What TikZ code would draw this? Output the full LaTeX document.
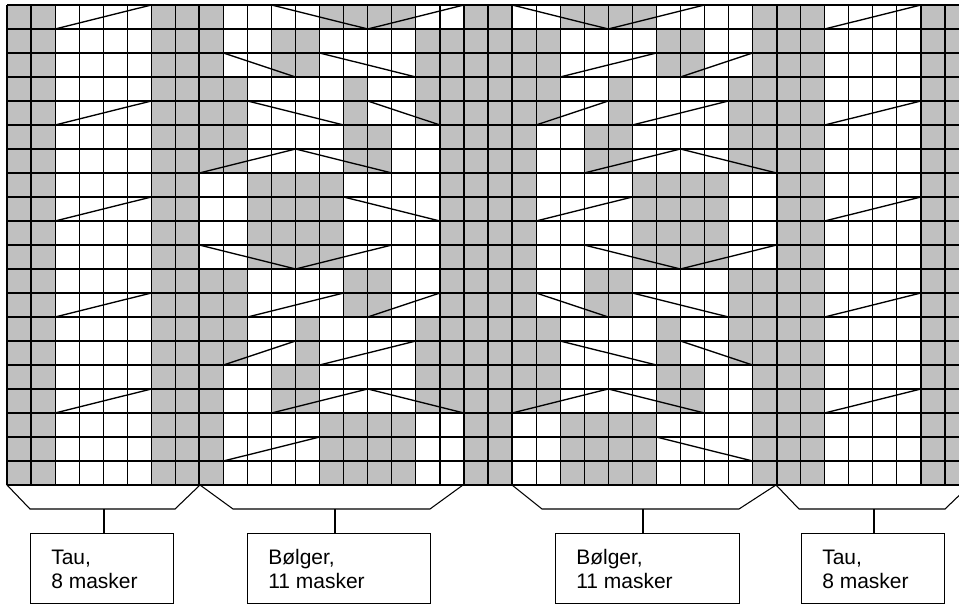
\documentclass[tikz,border=0pt]{standalone}
\usepackage{fontspec}
\setmainfont{Liberation Sans}
\definecolor{gridgrey}{RGB}{192,192,192}
\begin{document}
\begin{tikzpicture}[x=0.75pt,y=-0.75pt,
  gridline/.style={line width=0.9pt},
  sectline/.style={line width=1.4pt},
  crossline/.style={line width=1pt,line cap=round},
  bracket/.style={line width=0.8pt,line join=miter},
  stem/.style={line width=0.8pt},
  labelbox/.style={draw,line width=0.8pt,rectangle,inner sep=0pt,anchor=north west,minimum height=52.5pt},
  labeltext/.style={font=\fontsize{15.75}{18}\selectfont,align=left,anchor=base west,inner sep=0pt}
]
\useasboundingbox (0,0) rectangle (959,605);
\begin{scope}
\clip (0,0) rectangle (959,605);
% grey cells
\foreach \rr/\cols in {
 0/{0,1,6,7,8,13,14,15,16,19,20,23,24,25,26,31,32,33,38,39},
 1/{0,1,6,7,8,11,12,17,18,19,20,21,22,27,28,31,32,33,38,39},
 2/{0,1,6,7,8,11,12,17,18,19,20,21,22,27,28,31,32,33,38,39},
 3/{0,1,6,7,8,9,14,17,18,19,20,21,22,25,30,31,32,33,38,39},
 4/{0,1,6,7,8,9,14,17,18,19,20,21,22,25,30,31,32,33,38,39},
 5/{0,1,6,7,8,9,14,15,18,19,20,21,24,25,30,31,32,33,38,39},
 6/{0,1,6,7,8,9,14,15,18,19,20,21,24,25,30,31,32,33,38,39},
 7/{0,1,6,7,10,11,12,13,18,19,20,21,26,27,28,29,32,33,38,39},
 8/{0,1,6,7,10,11,12,13,18,19,20,21,26,27,28,29,32,33,38,39},
 9/{0,1,6,7,10,11,12,13,18,19,20,21,26,27,28,29,32,33,38,39},
 10/{0,1,6,7,10,11,12,13,18,19,20,21,26,27,28,29,32,33,38,39},
 11/{0,1,6,7,8,9,14,15,18,19,20,21,24,25,30,31,32,33,38,39},
 12/{0,1,6,7,8,9,14,15,18,19,20,21,24,25,30,31,32,33,38,39},
 13/{0,1,6,7,8,9,12,17,18,19,20,21,22,27,30,31,32,33,38,39},
 14/{0,1,6,7,8,9,12,17,18,19,20,21,22,27,30,31,32,33,38,39},
 15/{0,1,6,7,8,11,12,17,18,19,20,21,22,27,28,31,32,33,38,39},
 16/{0,1,6,7,8,11,12,17,18,19,20,21,22,27,28,31,32,33,38,39},
 17/{0,1,6,7,8,13,14,15,16,19,20,23,24,25,26,31,32,33,38,39},
 18/{0,1,6,7,8,13,14,15,16,19,20,23,24,25,26,31,32,33,38,39},
 19/{0,1,6,7,8,13,14,15,16,19,20,23,24,25,26,31,32,33,38,39}}{
  \foreach \cc in \cols {
    \fill[gridgrey] ({7+\cc*24.05},{5+\rr*24}) rectangle ++(24.05,24);
  }
}
% grid lines
\foreach \ii in {0,...,40} {
  \draw[gridline] ({7+\ii*24.05},5) -- ({7+\ii*24.05},485);
}
\foreach \jj in {0,...,20} {
  \draw[gridline] (7,{5+\jj*24}) -- (970,{5+\jj*24});
}
\foreach \ii in {8,19,21,32} {
  \draw[sectline] ({7+\ii*24.05},5) -- ({7+\ii*24.05},485);
}
% cable crossing lines, waves (mirrored)
\foreach \pa/\pb/\pc/\pd in {
  11/0/15/1, 15/1/19/0,
  9/2/12/3, 13/2/17/3,
  10/4/14/5, 15/4/18/5,
  8/7/12/6, 12/6/16/7,
  14/8/18/9,
  8/10/12/11, 12/11/16/10,
  10/13/14/12, 15/13/18/12,
  9/15/12/14, 13/15/17/14,
  11/17/15/16, 15/16/19/17,
  9/19/13/18}{
  \draw[crossline] ({7+\pa*24.05},{5+\pb*24}) -- ({7+\pc*24.05},{5+\pd*24});
  \draw[crossline] ({7+(40-\pa)*24.05},{5+\pb*24}) -- ({7+(40-\pc)*24.05},{5+\pd*24});
}
% rope crossing lines
\foreach \rr in {0,4,8,12,16} {
  \draw[crossline] ({7+2*24.05},{5+(\rr+1)*24}) -- ({7+6*24.05},{5+\rr*24});
  \draw[crossline] ({7+34*24.05},{5+(\rr+1)*24}) -- ({7+38*24.05},{5+\rr*24});
}
% brackets
\draw[bracket] (7,485) -- (30,509) -- (175,509) -- (200,485);
\draw[bracket] (200,485) -- (233,509) -- (430,509) -- (463,485);
\draw[bracket] (512,485) -- (542,509) -- (739,509) -- (776,485);
\draw[bracket] (776,485) -- (799,509) -- (945,509) -- (970,485);
\end{scope}
% stem points
\coordinate (s1) at (104,509);
\coordinate (s2) at (335,509);
\coordinate (s3) at (643,509);
\coordinate (s4) at (874,509);
% label boxes
\node[labelbox,minimum width=107.25pt] (box1) at (30,533) {};
\node[labelbox,minimum width=137.25pt] (box2) at (247,533) {};
\node[labelbox,minimum width=138pt] (box3) at (555,533) {};
\node[labelbox,minimum width=107.25pt] (box4) at (801,533) {};
\node[labeltext] (t1) at (51,588) {Tau,\\8 masker};
\node[labeltext] (t2) at (268,588) {Bølger,\\11 masker};
\node[labeltext] (t3) at (576,588) {Bølger,\\11 masker};
\node[labeltext] (t4) at (822,588) {Tau,\\8 masker};
% stems
\draw[stem] (s1) -- (s1 |- box1.north);
\draw[stem] (s2) -- (s2 |- box2.north);
\draw[stem] (s3) -- (s3 |- box3.north);
\draw[stem] (s4) -- (s4 |- box4.north);
\end{tikzpicture}
\end{document}
